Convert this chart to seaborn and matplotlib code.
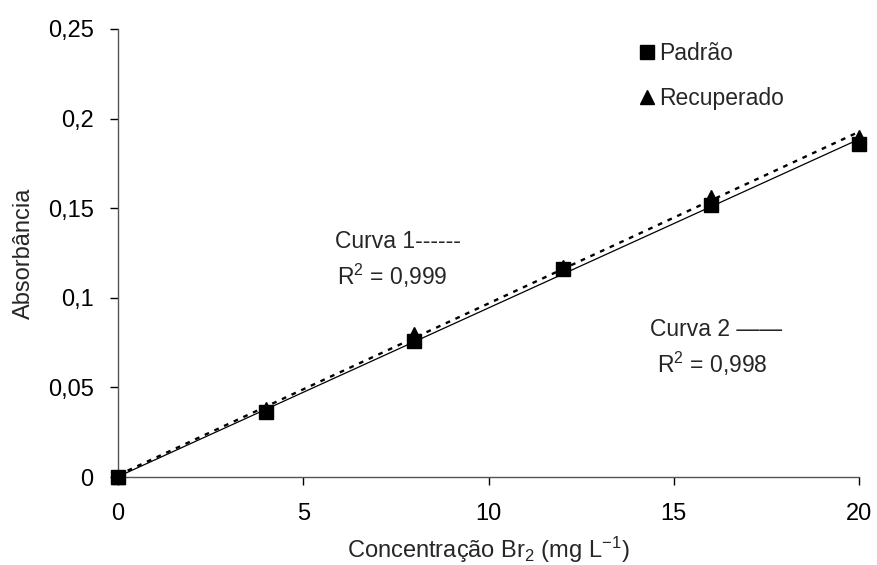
import matplotlib
matplotlib.use("Agg")
import matplotlib.pyplot as plt
import seaborn as sns
import pandas as pd

conc = [0, 4, 8, 12, 16, 20]
padrao = [0.0, 0.036, 0.076, 0.116, 0.152, 0.186]
recuperado = [0.0, 0.038, 0.080, 0.117, 0.156, 0.190]
xticks = [0, 5, 10, 15, 20]
yticks = [0, 0.05, 0.1, 0.15, 0.2, 0.25]
ytick_labels = ["0", "0,05", "0,1", "0,15", "0,2", "0,25"]

sns.set_theme(style="ticks")
plt.rcParams["font.family"] = ["Liberation Sans", "DejaVu Sans"]
plt.rcParams["mathtext.fontset"] = "custom"
plt.rcParams["mathtext.rm"] = "Liberation Sans"
plt.rcParams["mathtext.it"] = "Liberation Sans:italic"

df = pd.DataFrame({"conc": conc, "padrao": padrao, "recuperado": recuperado})

fig = plt.figure(figsize=(8.77, 5.65), dpi=100)
ax = fig.add_axes([118/877, 1-477/565, (859-118)/877, (477-29)/565])

sns.regplot(data=df, x="conc", y="recuperado", ax=ax, scatter=False, ci=None,
            truncate=True, line_kws=dict(color="black", lw=1.7, linestyle=(0, (2, 2.5))))
sns.regplot(data=df, x="conc", y="padrao", ax=ax, scatter=False, ci=None,
            truncate=True, line_kws=dict(color="black", lw=0.9, linestyle="-"))
ax.plot(df["conc"], df["recuperado"], linestyle="none", marker="^", color="black",
        markersize=10, label="Recuperado", clip_on=False, zorder=5)
ax.plot(df["conc"], df["padrao"], linestyle="none", marker="s", color="black",
        markersize=10, label="Padrão", clip_on=False, zorder=6)

ax.set_xlim(0, 20)
ax.set_ylim(0, 0.25)
ax.set_xticks(xticks)
ax.set_xticklabels([str(t) for t in xticks])
ax.set_yticks(yticks)
ax.set_yticklabels(ytick_labels)
ax.tick_params(axis="both", labelsize=17, direction="out", length=5.5, width=1, colors="black")
ax.tick_params(axis="x", pad=13)
ax.tick_params(axis="y", pad=12)
for s in ["top", "right"]:
    ax.spines[s].set_visible(False)
for s in ["left", "bottom"]:
    ax.spines[s].set_color("#555555")
    ax.spines[s].set_linewidth(1)

ax.set_xlabel("Concentração Br$_2$ (mg L$^{-1}$)", fontsize=17, labelpad=7)
ax.set_ylabel("Absorbância", fontsize=17, labelpad=9)

h, l = ax.get_legend_handles_labels()
order = [l.index("Padrão"), l.index("Recuperado")]
ax.legend([h[i] for i in order], [l[i] for i in order], frameon=False, fontsize=16.5,
          loc="upper left", bbox_to_anchor=(626/877, 1-33/565), bbox_transform=fig.transFigure,
          handletextpad=0.05, handlelength=1.0, labelspacing=0.95, borderaxespad=0)

fig.text(335/877, 1-242/565, "Curva 1------", fontsize=16.5, va="center", ha="left")
fig.text(337/877, 1-276/565, "R$^2$ = 0,999", fontsize=16.5, va="center", ha="left")
fig.text(650/877, 1-330/565, "Curva 2 ——", fontsize=16.5, va="center", ha="left")
fig.text(657/877, 1-364/565, "R$^2$ = 0,998", fontsize=16.5, va="center", ha="left")

fig.savefig("out.png", dpi=100)
